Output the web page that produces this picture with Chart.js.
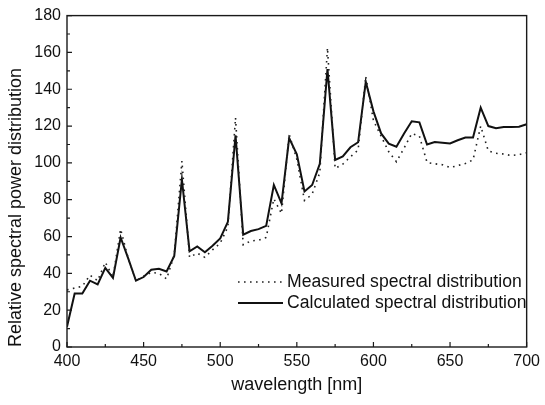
<!DOCTYPE html>
<html>
<head>
<meta charset="utf-8">
<script src="https://cdn.jsdelivr.net/npm/chart.js@4.4.1/dist/chart.umd.min.js"></script>
<style>
  html, body { margin: 0; padding: 0; background: #fff; }
</style>
</head>
<body>
<canvas id="myChart" width="545" height="405"></canvas>
<script>
// wavelengths (nm)
const wavelength = [
  400, 405, 410, 415, 420, 425, 430, 435, 440, 445,
  450, 455, 460, 465, 470, 475, 480, 485, 490, 495,
  500, 505, 510, 515, 520, 525, 530, 535, 540, 545,
  550, 555, 560, 565, 570, 575, 580, 585, 590, 595,
  600, 605, 610, 615, 620, 625, 630, 635, 640, 645,
  650, 655, 660, 665, 670, 675, 680, 685, 690, 695,
  700
];

// dotted curve
const measured = [
  31, 32, 33, 39, 36, 46, 38, 64, 48, 36,
  38.5, 40.5, 40, 37, 50, 101, 48.7, 51, 48.7, 52.8,
  56.4, 65.3, 124.5, 55.5, 57.6, 58, 59.5, 80.5, 72.5, 115.5,
  102, 79.6, 83, 94.8, 162.5, 97, 99.3, 103.3, 107, 147,
  123, 114.5, 106, 100.6, 108, 116, 114.5, 100.2, 99.5, 99,
  97.5, 98.5, 99.7, 101.6, 120, 106.5, 105.2, 104.8, 104, 104.5,
  105.5
];

// solid curve
const calculated = [
  11, 29, 29, 36, 34, 43, 37.5, 59.5, 48, 36,
  38, 42, 42.5, 41, 49.5, 91, 52, 54.6, 51.5, 55,
  59, 68, 115, 61, 63, 64, 65.8, 88, 78, 113.5,
  104.6, 84.5, 88, 99.5, 151, 101.6, 103.5, 108.5, 111.2, 144,
  128, 116, 110.5, 108.8, 116, 122.6, 122, 110, 111.3, 111,
  110.6, 112.3, 113.8, 113.8, 130, 120, 118.8, 119.5, 119.5, 119.6,
  121
];

const xTicks = [400, 450, 500, 550, 600, 650, 700];
const xMinorTicks = [425, 475, 525, 575, 625, 675];
const yTicks = [0, 20, 40, 60, 80, 100, 120, 140, 160, 180];
const yMinorTicks = [10, 30, 50, 70, 90, 110, 130, 150, 170];

const legendLabels = ['Measured spectral distribution', 'Calculated spectral distribution'];

const fontFamily = '"Liberation Sans", Arial, Helvetica, sans-serif';
const ink = '#111';

// build point lists from the arrays
const toPoints = (vals) => wavelength.map((w, i) => ({ x: w, y: vals[i] }));

// box around the plot + inward tick marks
const frameAndTicks = {
  id: 'frameAndTicks',
  afterDatasetsDraw(chart) {
    const { ctx, chartArea: a, scales } = chart;
    const x = scales.x, y = scales.y;
    ctx.save();
    ctx.strokeStyle = '#1a1a1a';
    ctx.lineWidth = 1.4;
    ctx.strokeRect(a.left, a.top, a.right - a.left, a.bottom - a.top);

    ctx.lineWidth = 1.2;
    ctx.beginPath();
    xTicks.forEach(v => {
      const px = x.getPixelForValue(v);
      ctx.moveTo(px, a.bottom); ctx.lineTo(px, a.bottom - 5);
    });
    xMinorTicks.forEach(v => {
      const px = x.getPixelForValue(v);
      ctx.moveTo(px, a.bottom); ctx.lineTo(px, a.bottom - 3);
    });
    yTicks.forEach(v => {
      const py = y.getPixelForValue(v);
      ctx.moveTo(a.left, py); ctx.lineTo(a.left + 5, py);
    });
    yMinorTicks.forEach(v => {
      const py = y.getPixelForValue(v);
      ctx.moveTo(a.left, py); ctx.lineTo(a.left + 3, py);
    });
    ctx.stroke();
    ctx.restore();
  }
};

// legend sits inside the plot, lower right
const insideLegend = {
  id: 'insideLegend',
  afterDraw(chart) {
    const { ctx } = chart;
    const rows = [282, 303];
    ctx.save();
    chart.data.datasets.forEach((ds, i) => {
      const yy = rows[i];
      ctx.strokeStyle = ds.borderColor;
      ctx.lineWidth = ds.borderWidth;
      ctx.setLineDash(ds.borderDash || []);
      ctx.beginPath();
      ctx.moveTo(238, yy);
      ctx.lineTo(283, yy);
      ctx.stroke();
      ctx.setLineDash([]);
      ctx.fillStyle = ink;
      ctx.font = '17.6px ' + fontFamily;
      ctx.textBaseline = 'middle';
      ctx.textAlign = 'left';
      ctx.fillText(ds.label, 287, yy);
    });
    ctx.restore();
  }
};

const data = {
  datasets: [
    {
      label: legendLabels[0],
      data: toPoints(measured),
      borderColor: '#222',
      borderWidth: 1.6,
      borderDash: [1.6, 4.4],
      pointRadius: 0,
      tension: 0,
    },
    {
      label: legendLabels[1],
      data: toPoints(calculated),
      borderColor: ink,
      borderWidth: 2,
      pointRadius: 0,
      tension: 0,
    }
  ]
};

const myChart = new Chart(document.getElementById('myChart'), {
  type: 'line',
  data,
  plugins: [frameAndTicks, insideLegend],
  options: {
    responsive: false,
    animation: false,
    layout: { padding: { left: 0, top: 11, right: 12, bottom: 0 } },
    plugins: {
      legend: { display: false },
      tooltip: { enabled: false },
    },
    scales: {
      x: {
        type: 'linear',
        min: 400,
        max: 700,
        afterBuildTicks(scale) { scale.ticks = xTicks.map(v => ({ value: v })); },
        afterFit(scale) { scale.height = 58; },
        grid: { display: false, drawTicks: false },
        border: { display: false },
        ticks: {
          color: ink,
          padding: 5,
          maxRotation: 0,
          font: { family: fontFamily, size: 16 },
        },
        title: {
          display: true,
          text: 'wavelength [nm]',
          color: ink,
          padding: { top: 0, bottom: 9 },
          font: { family: fontFamily, size: 18 },
        }
      },
      y: {
        min: 0,
        max: 180,
        afterBuildTicks(scale) { scale.ticks = yTicks.map(v => ({ value: v })); },
        afterFit(scale) { scale.width = 67; },
        grid: { display: false, drawTicks: false },
        border: { display: false },
        ticks: {
          color: ink,
          padding: 6,
          font: { family: fontFamily, size: 16 },
        },
        title: {
          display: true,
          text: 'Relative spectral power distribution',
          align: 'start',
          color: ink,
          padding: { top: 5, bottom: 0 },
          font: { family: fontFamily, size: 18 },
        }
      }
    }
  }
});
</script>
</body>
</html>
